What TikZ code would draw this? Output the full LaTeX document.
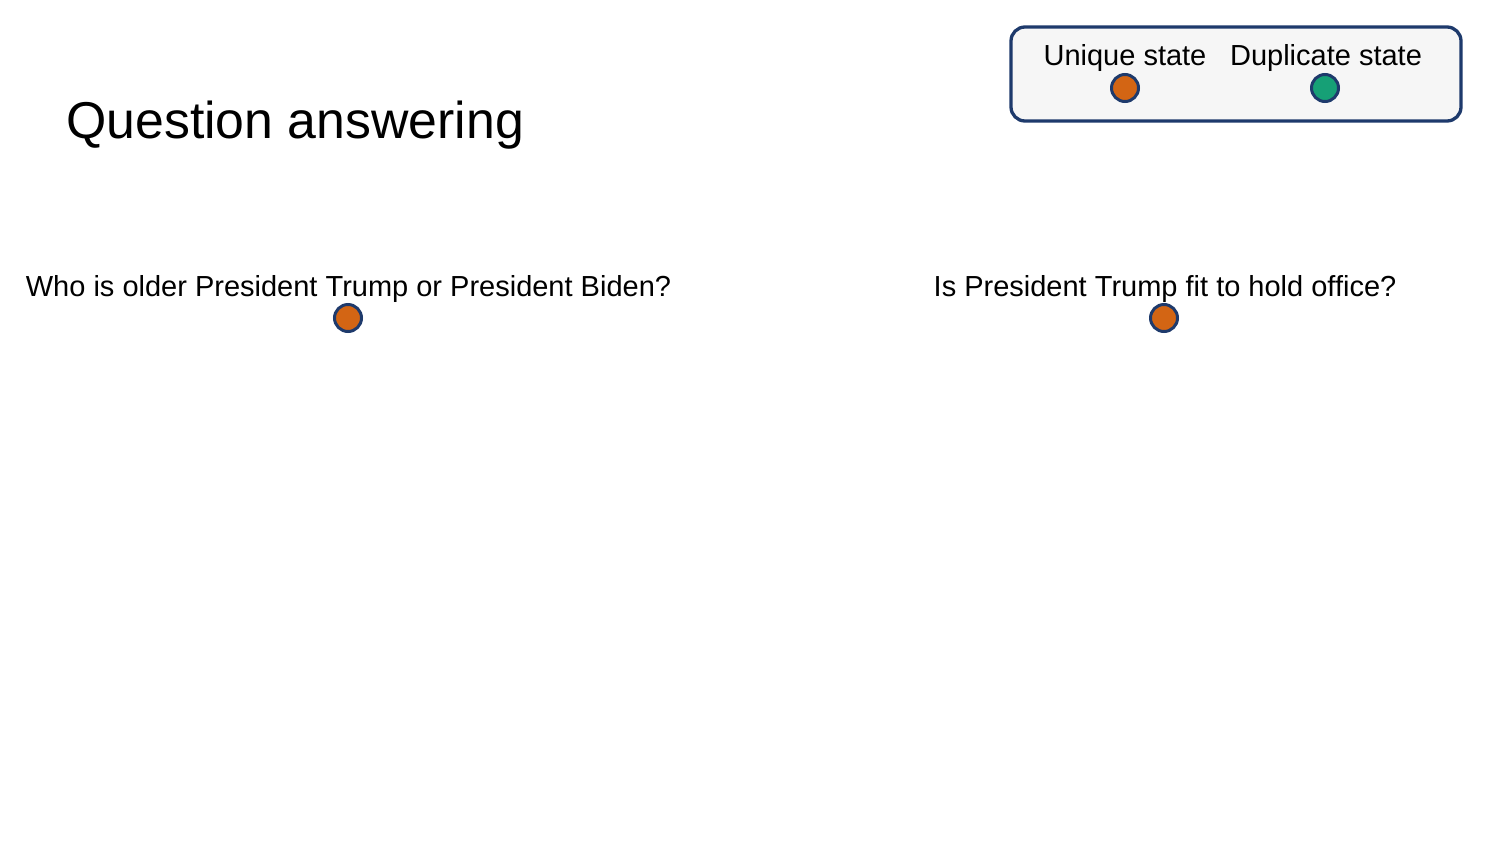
\documentclass[tikz,border=0pt]{standalone}
\usepackage{fontspec}
\setmainfont{Liberation Sans}
\definecolor{uniq}{RGB}{211,101,20}
\definecolor{dup}{RGB}{22,160,118}
\definecolor{navy}{RGB}{30,58,108}
\definecolor{legfill}{RGB}{246,246,246}
\tikzset{
  state/.style={circle, draw=navy, line width=3pt, minimum size=27pt, inner sep=0pt},
  lbl/.style={anchor=base, inner sep=0pt, font=\fontsize{29}{34}\selectfont},
}
\begin{document}
\begin{tikzpicture}[x=1pt,y=-1pt]
\useasboundingbox (0,0) rectangle (1500,844);
\fill[white] (0,0) rectangle (1500,844);
% title
\node[anchor=base west, inner sep=0pt, font=\fontsize{51.8}{60}\selectfont] (title) at (66,138) {Question answering};
% legend
\draw[navy, line width=3.3pt, fill=legfill, rounded corners=14pt] (1011,27) rectangle (1461,121);
\node[lbl] (lu) at (1125,65) {Unique state};
\node[lbl] (ld) at (1326,65) {Duplicate state};
\node[state, fill=uniq] (cu) at (1125,88) {};
\node[state, fill=dup] (cd) at (1325,88) {};
% questions
\node[lbl] (q1) at (348.5,296) {Who is older President Trump or President Biden?};
\node[state, fill=uniq] (s1) at (348,318) {};
\node[lbl] (q2) at (1165,296) {Is President Trump fit to hold office?};
\node[state, fill=uniq] (s2) at (1164,318) {};
\end{tikzpicture}
\end{document}
